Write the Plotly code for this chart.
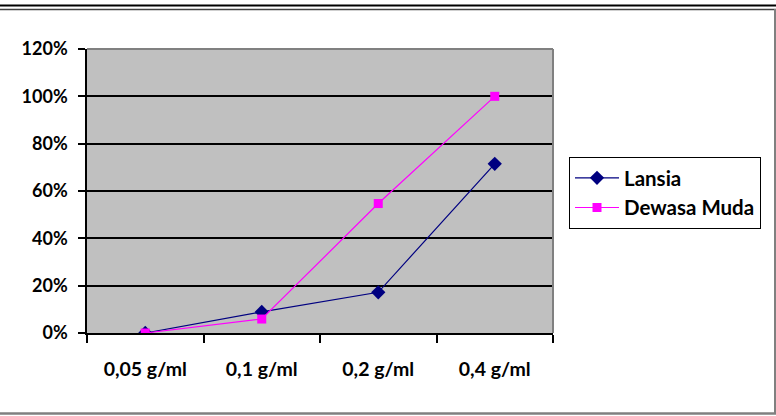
import plotly.graph_objects as go

# data
categories = ["0,05 g/ml", "0,1 g/ml", "0,2 g/ml", "0,4 g/ml"]
lansia = [0.0, 0.089, 0.172, 0.715]
dewasa_muda = [0.0, 0.059, 0.547, 1.0]
y_ticks = [0, 0.2, 0.4, 0.6, 0.8, 1.0, 1.2]

W, H = 776, 416
L, R, T, B = 87, 223, 49, 83
PW, PH = W - L - R, H - T - B


def px(x):
    return (x - L) / PW


def py(y):
    return (H - B - y) / PH


font = "Lato, 'Open Sans', Arial, sans-serif"

fig = go.Figure()
fig.add_trace(go.Scatter(
    x=categories, y=lansia, name="<b>Lansia</b>", mode="lines+markers",
    line=dict(color="#000080", width=1.2),
    marker=dict(symbol="diamond", size=11, color="#000080"),
))
fig.add_trace(go.Scatter(
    x=categories, y=dewasa_muda, name="<b>Dewasa Muda</b>", mode="lines+markers",
    line=dict(color="#FF00FF", width=1.2),
    marker=dict(symbol="square", size=9, color="#FF00FF"),
))

# frame around the chart
fig.add_shape(type="line", xref="paper", yref="paper", x0=px(0), x1=px(W), y0=py(5.5), y1=py(5.5),
              line=dict(color="black", width=2))
fig.add_shape(type="line", xref="paper", yref="paper", x0=px(0), x1=px(W), y0=py(9.5), y1=py(9.5),
              line=dict(color="#404040", width=1.5))
fig.add_shape(type="line", xref="paper", yref="paper", x0=px(775), x1=px(775), y0=py(9), y1=py(414),
              line=dict(color="#808080", width=2))
fig.add_shape(type="line", xref="paper", yref="paper", x0=px(0), x1=px(776), y0=py(413.5), y1=py(413.5),
              line=dict(color="#808080", width=2.5))
# plot area top/right edge
fig.add_shape(type="line", xref="paper", yref="paper", x0=0, x1=1, y0=1, y1=1,
              line=dict(color="#808080", width=2))
fig.add_shape(type="line", xref="paper", yref="paper", x0=1, x1=1, y0=0, y1=1,
              line=dict(color="#808080", width=2))

fig.update_xaxes(
    type="category", range=[-0.5, 3.5], tickson="boundaries", ticks="outside", ticklen=8,
    tickwidth=1.5, tickcolor="black", showline=True, linecolor="black", linewidth=1.5,
    showgrid=False,
    tickfont=dict(family=font, size=19.5, color="black", weight="bold"),
    ticklabelstandoff=18, fixedrange=True,
)
fig.update_yaxes(
    range=[0, 1.2], tickvals=y_ticks, tickformat=".0%", ticks="outside", ticklen=7,
    tickwidth=1.5, tickcolor="black", showline=True, linecolor="black", linewidth=1.5,
    showgrid=True, gridcolor="black", gridwidth=1.5, zeroline=False,
    tickfont=dict(family=font, size=18, color="black", weight="bold"),
    ticklabelstandoff=7, fixedrange=True,
)

fig.update_layout(
    width=W, height=H,
    margin=dict(l=L, r=R, t=T, b=B),
    paper_bgcolor="white", plot_bgcolor="#C0C0C0",
    font=dict(family=font, color="black"),
    legend=dict(
        x=px(569), y=py(157), xanchor="left", yanchor="top",
        bordercolor="black", borderwidth=1, bgcolor="white",
        font=dict(family=font, size=20.5, color="black"),
        itemwidth=44, tracegroupgap=0,
    ),
    showlegend=True,
)

fig.write_html("out.html", config={"displayModeBar": False},
               post_script="document.body.style.margin='0';")
